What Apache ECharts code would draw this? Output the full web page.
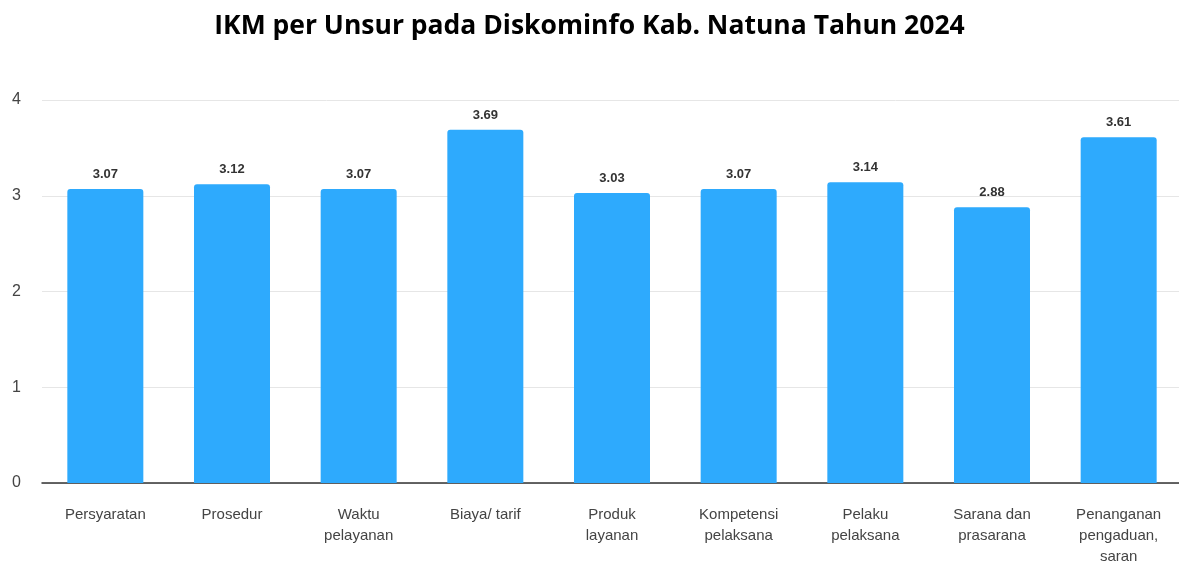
<!DOCTYPE html>
<html><head><meta charset="utf-8">
<script src="https://cdn.jsdelivr.net/npm/echarts@6/dist/echarts.min.js"></script>
<style>html,body{margin:0;padding:0;background:#fff}#c{width:1179px;height:564px}</style>
</head><body><div id="c"></div>
<script>
var categories = ['Persyaratan','Prosedur','Waktu\npelayanan','Biaya/ tarif','Produk\nlayanan','Kompetensi\npelaksana','Pelaku\npelaksana','Sarana dan\nprasarana','Penanganan\npengaduan,\nsaran'];
var values = [3.07,3.12,3.07,3.69,3.03,3.07,3.14,2.88,3.61];
var yTicks = [0,1,2,3,4];
var chart = echarts.init(document.getElementById('c'));
chart.setOption({
  animation:false,
  title:{text:'IKM per Unsur pada Diskominfo Kab. Natuna Tahun 2024',left:'center',top:8,
    textStyle:{fontFamily:'Open Sans',fontWeight:'bold',fontSize:26.5,color:'#000'}},
  grid:{left:42,top:100,bottom:81,width:1140,outerBoundsMode:'none',containLabel:false},
  xAxis:{type:'category',data:categories,
    axisLine:{lineStyle:{color:'#333',width:1.5}},axisTick:{show:false},
    axisLabel:{color:'#444',fontSize:15,fontFamily:'Liberation Sans',margin:21,lineHeight:21,interval:0}},
  yAxis:{type:'value',min:0,max:4,interval:1,
    axisLine:{show:false},axisTick:{show:false},
    splitLine:{lineStyle:{color:'#e6e6e6'}},
    axisLabel:{color:'#444',fontSize:16,fontFamily:'Liberation Sans',margin:30,align:'left',
      formatter:function(v){return yTicks.indexOf(v)>=0?String(v):'';}}},
  series:[{type:'bar',data:values,barWidth:'60%',
    itemStyle:{color:'#2EAAFD',borderRadius:[3,3,0,0]},
    label:{show:true,position:'top',distance:8,color:'#333',fontWeight:'bold',fontSize:13,fontFamily:'Liberation Sans',
      formatter:function(p){return p.value.toFixed(2);}}}]
});
</script></body></html>
